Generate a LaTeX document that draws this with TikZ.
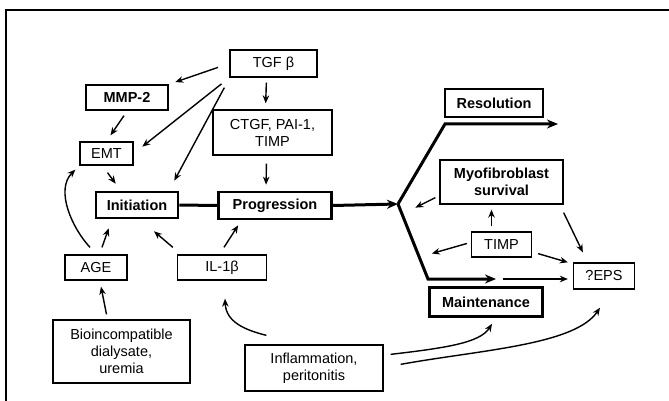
\documentclass[tikz,border=0pt]{standalone}
\usepackage{fontspec}
\setmainfont{Liberation Sans}
\usetikzlibrary{arrows.meta,calc}
\begin{document}
\begin{tikzpicture}[x=1pt,y=-1pt,
  box/.style={draw,line width=1.3pt,inner sep=0pt,align=center,font=\fontsize{14.5}{17}\selectfont},
  bbox/.style={box,font=\fontsize{14.5}{17}\selectfont\bfseries},
  tbox/.style={bbox,line width=2.6pt},
  arr/.style={line width=1.4pt,-{Stealth[length=8pt,width=6.5pt]}},
  tarr/.style={line width=3pt,-{Stealth[length=11pt,width=9pt]}},
  tline/.style={line width=3pt}]
\useasboundingbox (0,0) rectangle (669,401);
\draw[line width=2pt] (6,401) -- (6,10) -- (669,10);
% nodes
\node[box,minimum width=87pt,minimum height=27pt] (tgf) at (273.5,63.5) {TGF β};
\node[bbox,minimum width=82pt,minimum height=25pt] (mmp) at (127,97.5) {MMP-2};
\node[box,minimum width=53pt,minimum height=23pt] (emt) at (106.5,153.5) {EMT};
\node[box,minimum width=119pt,minimum height=45pt] (ctgf) at (272.5,132.5) {CTGF, PAI-1,\\TIMP};
\node[tbox,minimum width=82pt,minimum height=26pt] (init) at (137,205) {Initiation};
\node[tbox,minimum width=113pt,minimum height=27pt] (prog) at (275,205.5) {Progression};
\node[tbox,minimum width=98pt,minimum height=28pt] (res) at (494,103) {Resolution};
\node[bbox,minimum width=123pt,minimum height=44pt] (myo) at (501.5,182) {Myofibroblast\\survival};
\node[box,minimum width=60pt,minimum height=25pt] (timp) at (501.5,244.5) {TIMP};
\node[box,minimum width=61pt,minimum height=26pt] (eps) at (604,276) {?EPS};
\node[tbox,minimum width=113pt,minimum height=29pt] (maint) at (486,302) {Maintenance};
\node[box,minimum width=138pt,minimum height=46pt] (infl) at (314,368) {Inflammation,\\peritonitis};
\node[box,minimum width=89pt,minimum height=25pt] (il) at (222,267.5) {IL-1β};
\node[box,minimum width=62pt,minimum height=25pt] (age) at (96,267.5) {AGE};
\node[box,minimum width=137pt,minimum height=63pt] (bio) at (121.5,351.5) {Bioincompatible\\dialysate,\\uremia};
\coordinate (J) at (398,204);
\coordinate (Jr) at (445,124);
\coordinate (resEnd) at (558,124);
\coordinate (Jm) at (428,279);
\coordinate (mEnd) at (496,279);
\coordinate (mStart) at (503,279);
% TGF arrows
\draw[arr,shorten <=12pt,shorten >=7pt] (tgf.west) -- (mmp.north east);
\draw[arr,shorten <=10pt,shorten >=11pt] (tgf.south west) -- (emt.east);
\draw[arr] ($(tgf.south west)+(-5,10)$) -- ($(init.north east)+(-5,-10)$);
\draw[arr,shorten <=5pt,shorten >=6pt] ($(tgf.south)+(-7,0)$) -- ($(ctgf.north)+(-7,0)$);
\draw[arr,shorten <=8pt,shorten >=6pt] ($(ctgf.south)+(-6,0)$) -- ($(prog.north)+(-9,0)$);
\draw[arr] ($(mmp.south)+(-3,5)$) -- ($(emt.north)+(4,-6)$);
\draw[arr] ($(emt.south)+(1,7)$) -- ($(init.north west)+(21,-7)$);
% main path
\draw[tline] (init.east) -- (prog.west);
\draw[tarr] (prog.east) -- (J);
\draw[tarr] (J) -- (Jr) -- (resEnd);
\draw[tarr] (J) -- (Jm) -- (mEnd);
\draw[arr] (mStart) -- ($(eps.west)+(-5,3)$);
% right side
\draw[arr] ($(myo.south west)+(-4,-7)$) -- ++(-20,10);
\draw[arr,shorten <=5pt,shorten >=5pt] ($(timp.north)+(-10,0)$) -- ($(myo.south)+(-10,0)$);
\draw[arr] ($(timp.west)+(-4,-1)$) -- ++(-35,10);
\draw[arr] ($(timp.south east)+(6,-4)$) -- ($(eps.north west)+(-5,0)$);
\draw[arr] ($(myo.south east)+(0,8)$) -- ($(eps.north west)+(10,-10)$);
% inflammation curves
\draw[arr] ($(infl.north east)+(7,10)$) .. controls (445,348) and (480,343) .. ($(maint.south)+(6,6)$);
\draw[arr] ($(infl.north east)+(17,20)$) .. controls (480,350) and (575,345) .. ($(eps.south)+(-4,18)$);
\draw[arr] ($(infl.north west)+(22,-9)$) .. controls (245,330) and (226,322) .. ($(il.south)+(3,18)$);
% IL-1b and AGE
\draw[arr] ($(il.north west)+(-4,-7)$) -- ($(init.south)+(17,12)$);
\draw[arr] ($(il.north)+(2,-7)$) -- ($(prog.south west)+(21,5)$);
\draw[arr] ($(age.north)+(6,-7)$) -- ($(init.south west)+(14,9)$);
\draw[arr] ($(age.north)+(-6,-7)$) .. controls (72,228) and (55,190) .. ($(emt.south west)+(-4,4)$);
\draw[arr] ($(bio.north)+(-15,-5)$) -- ($(age.south)+(5,6)$);
\end{tikzpicture}
\end{document}
